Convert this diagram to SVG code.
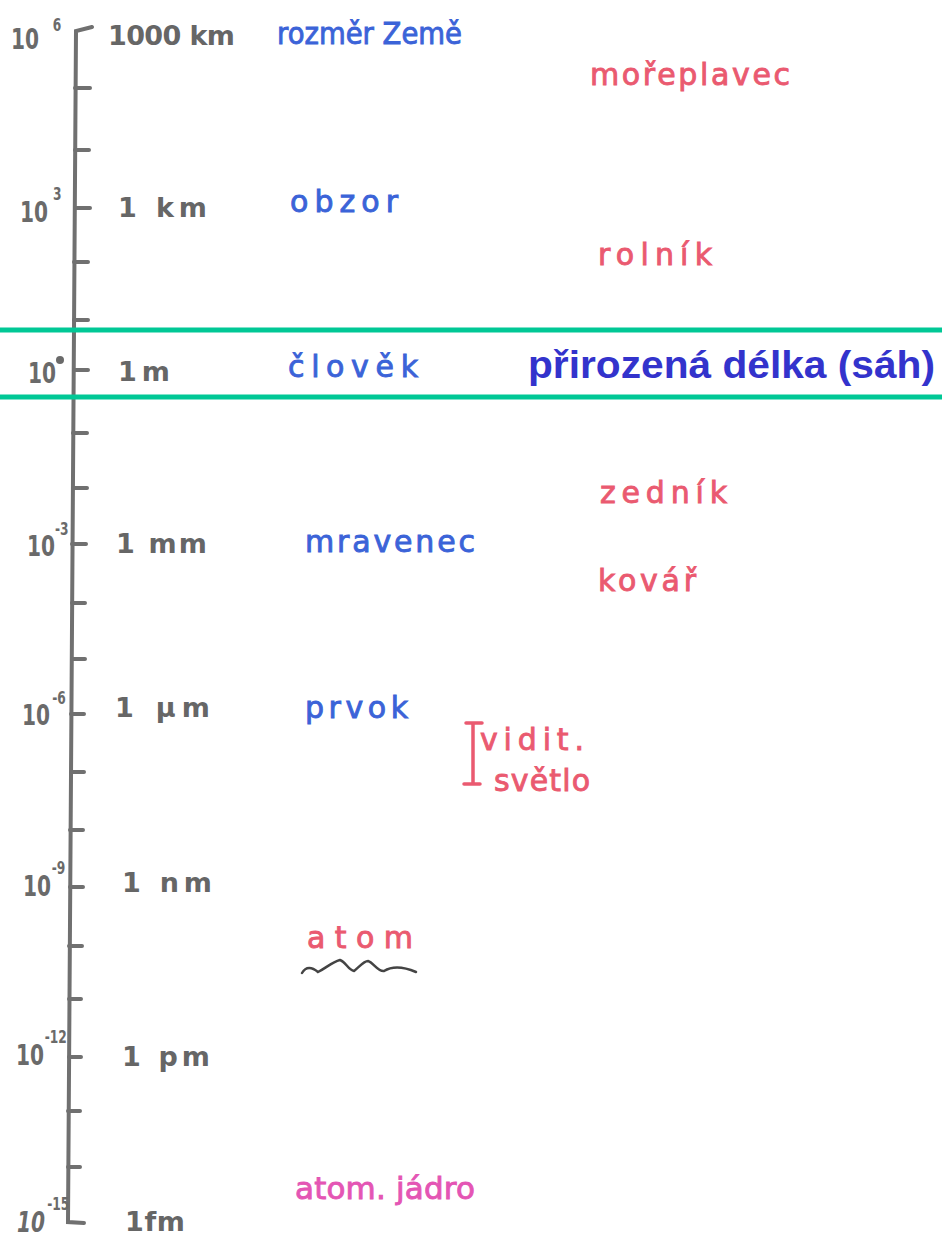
<svg xmlns="http://www.w3.org/2000/svg" width="942" height="1248" viewBox="0 0 942 1248">
<style>
.ax{stroke:#707070;stroke-width:4;fill:none;stroke-linecap:round}
.exp{font-family:"DejaVu Sans","Liberation Sans",sans-serif;fill:#6a6a6a;font-size:28px;font-weight:bold}
.sup{font-size:17px}
.unit{font-family:"DejaVu Sans","Liberation Sans",sans-serif;fill:#666;font-size:27px;font-weight:bold}
.blue{font-family:"DejaVu Sans","Liberation Sans",sans-serif;fill:#3b63d8;stroke:#3b63d8;stroke-width:0.9;font-size:30px}
.red{font-family:"DejaVu Sans","Liberation Sans",sans-serif;fill:#ea5a70;stroke:#ea5a70;stroke-width:0.9;font-size:30px}
.mag{font-family:"DejaVu Sans","Liberation Sans",sans-serif;fill:#e455b4;stroke:#e455b4;stroke-width:0.9;font-size:31px}
.green{stroke:#00c896;stroke-width:5}
.bold{font-family:"Liberation Sans",Arial,sans-serif;font-weight:bold;font-size:39px;fill:#3333cc}
</style>
<rect width="942" height="1248" fill="#ffffff"/>
<g id="axis">
<path class="ax" d="M92,27 L76,31 L68,1222 L84,1223"/>
<path class="ax" d="M75,88 h15 M75,150 h14 M75,208 h15 M74,262 h14 M74,320 h14 M74,370 h14 M73,433 h14 M73,488 h14 M72,544 h14 M72,603 h13 M72,659 h13 M71,714 h13 M71,772 h13 M70,830 h13 M70,887 h13 M69,946 h13 M69,999 h12 M69,1057 h12 M68,1111 h12 M68,1167 h12"/>
</g>
<g id="exponents">
<text class="exp" transform="translate(11,49) scale(0.72,1)">10<tspan class="sup" dx="19" dy="-18" font-size="19">6</tspan></text>
<text class="exp" font-size="26" transform="translate(20,222) scale(0.72,1)">10<tspan class="sup" dx="7" dy="-22" font-size="18">3</tspan></text>
<text class="exp" transform="translate(28,383) scale(0.72,1)">10</text><circle cx="60" cy="360" r="4" fill="#6a6a6a"/>
<text class="exp" font-size="24" transform="translate(27,556) scale(0.72,1)">10<tspan class="sup" dx="0" dy="-21">-3</tspan></text>
<text class="exp" font-size="24" transform="translate(22,725) scale(0.72,1)">10<tspan class="sup" dx="3" dy="-21">-6</tspan></text>
<text class="exp" font-size="24" transform="translate(23,896) scale(0.72,1)">10<tspan class="sup" dx="1" dy="-22">-9</tspan></text>
<text class="exp" font-size="26" transform="translate(16,1065) scale(0.72,1)">10<tspan class="sup" dx="1" dy="-22">-12</tspan></text>
<text class="exp" font-size="26" font-style="italic" font-weight="normal" transform="translate(17,1232) scale(0.72,1)">10<tspan class="sup" font-style="normal" dx="3" dy="-22">-15</tspan></text>
</g>
<g id="units">
<text class="unit" x="108" y="45" textLength="127" lengthAdjust="spacing">1000 km</text>
<text class="unit" x="118" y="217" textLength="89" lengthAdjust="spacing">1 km</text>
<text class="unit" x="118" y="381" textLength="52" lengthAdjust="spacing">1 m</text>
<text class="unit" x="116" y="553" textLength="91" lengthAdjust="spacing">1 mm</text>
<text class="unit" x="115" y="717" textLength="95" lengthAdjust="spacing">1 μm</text>
<text class="unit" x="122" y="892" textLength="90" lengthAdjust="spacing">1 nm</text>
<text class="unit" x="122" y="1066" textLength="88" lengthAdjust="spacing">1 pm</text>
<text class="unit" x="125" y="1231" textLength="60" lengthAdjust="spacing">1fm</text>
</g>
<g id="blue-labels">
<text class="blue" x="277" y="44" textLength="185" lengthAdjust="spacingAndGlyphs">rozměr Země</text>
<text class="blue" x="290" y="212" textLength="108" lengthAdjust="spacing">obzor</text>
<text class="blue" x="288" y="377" textLength="130" lengthAdjust="spacing">člověk</text>
<text class="blue" x="305" y="552" textLength="170" lengthAdjust="spacing">mravenec</text>
<text class="blue" x="305" y="718" textLength="103" lengthAdjust="spacing">prvok</text>
</g>
<g id="red-labels">
<text class="red" x="590" y="85" textLength="200" lengthAdjust="spacing">mořeplavec</text>
<text class="red" x="598" y="265" textLength="114" lengthAdjust="spacing">rolník</text>
<text class="red" x="600" y="503" textLength="127" lengthAdjust="spacing">zedník</text>
<text class="red" x="598" y="591" textLength="98" lengthAdjust="spacing">kovář</text>
</g>
<g id="visible-light">
<path d="M466,723 h16 M473,723 V784 M464,784 h16" stroke="#ea5a70" stroke-width="3.5" fill="none" stroke-linecap="round"/>
<text class="red" x="480" y="750" font-size="25" textLength="104" lengthAdjust="spacing">vidit.</text>
<text class="red" x="494" y="791" font-size="25" textLength="96" lengthAdjust="spacing">světlo</text>
</g>
<g id="atom">
<text class="red" x="307" y="948" font-size="32" textLength="106" lengthAdjust="spacing">atom</text>
<path d="M302,973 C306,966 312,967 318,972 C326,968 332,962 340,960 C346,962 348,970 354,971 C360,966 364,961 368,961 C374,963 378,972 384,971 C392,966 402,966 416,972" stroke="#444" stroke-width="2.5" fill="none" stroke-linecap="round"/>
</g>
<g id="nucleus">
<text class="mag" x="295" y="1199" textLength="180" lengthAdjust="spacing">atom. jádro</text>
</g>
<g id="natural-length">
<line class="green" x1="0" y1="330" x2="942" y2="330"/>
<line class="green" x1="0" y1="397" x2="942" y2="397"/>
<text class="bold" x="528" y="378" textLength="407" lengthAdjust="spacingAndGlyphs">přirozená délka (sáh)</text>
</g>
</svg>
